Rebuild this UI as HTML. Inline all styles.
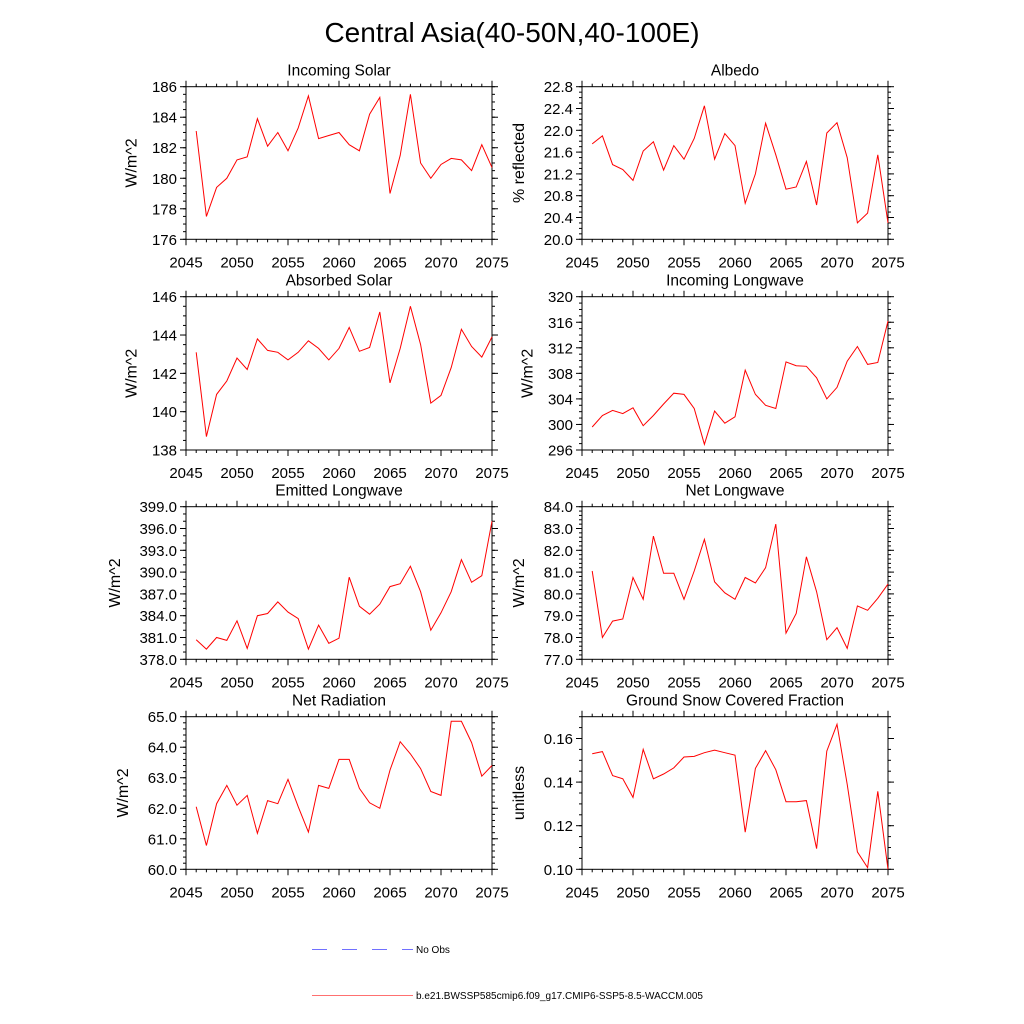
<!DOCTYPE html>
<html><head><meta charset="utf-8"><style>
html,body{margin:0;padding:0;background:#fff;}
svg{display:block;font-family:"Liberation Sans",Arial,sans-serif;}
</style></head><body>
<svg id="chart" width="1024" height="1024" viewBox="0 0 1024 1024" xmlns="http://www.w3.org/2000/svg">
<text x="512" y="42" font-size="28" text-anchor="middle">Central Asia(40-50N,40-100E)</text>
<g>
<line x1="312" y1="949.5" x2="413" y2="949.5" stroke="#7070ff" stroke-width="1" stroke-dasharray="15,15"/>
<text x="416" y="953" font-size="10">No Obs</text>
<line x1="312" y1="995.5" x2="413" y2="995.5" stroke="#ff7070" stroke-width="1"/>
<text x="416" y="999" font-size="10">b.e21.BWSSP585cmip6.f09_g17.CMIP6-SSP5-8.5-WACCM.005</text>
</g>
</svg>
<script>
const years = [2046,2047,2048,2049,2050,2051,2052,2053,2054,2055,2056,2057,2058,2059,2060,2061,2062,2063,2064,2065,2066,2067,2068,2069,2070,2071,2072,2073,2074,2075];
const xTicks = [2045,2050,2055,2060,2065,2070,2075];
const incomingSolar = [183.1,177.5,179.4,180.0,181.2,181.4,183.9,182.1,183.0,181.8,183.3,185.4,182.6,182.8,183.0,182.2,181.8,184.2,185.3,179.0,181.5,185.5,181.0,180.0,180.9,181.3,181.2,180.5,182.2,180.7];
const albedo = [21.75,21.9,21.37,21.28,21.08,21.62,21.79,21.27,21.72,21.47,21.85,22.45,21.47,21.94,21.72,20.66,21.2,22.13,21.55,20.92,20.96,21.43,20.63,21.95,22.14,21.5,20.3,20.48,21.55,20.3];
const absorbedSolar = [143.1,138.7,140.9,141.6,142.8,142.2,143.8,143.2,143.1,142.7,143.1,143.7,143.3,142.7,143.3,144.4,143.15,143.35,145.2,141.5,143.3,145.5,143.5,140.45,140.85,142.3,144.3,143.4,142.85,143.9];
const incomingLongwave = [299.6,301.4,302.2,301.7,302.6,299.8,301.4,303.2,304.9,304.7,302.5,296.9,302.1,300.2,301.2,308.5,304.7,303.0,302.5,309.8,309.2,309.1,307.3,304.0,305.8,309.9,312.2,309.4,309.7,316.2];
const emittedLongwave = [380.7,379.4,381.0,380.6,383.3,379.5,384.0,384.3,385.9,384.5,383.6,379.4,382.7,380.2,380.9,389.3,385.3,384.2,385.6,388.0,388.4,390.8,387.3,382.0,384.4,387.3,391.7,388.6,389.5,397.0];
const netLongwave = [81.05,78.0,78.75,78.85,80.75,79.75,82.65,80.95,80.95,79.75,81.05,82.5,80.55,80.05,79.75,80.75,80.5,81.2,83.2,78.2,79.1,81.7,80.1,77.9,78.45,77.5,79.45,79.25,79.8,80.45];
const netRadiation = [62.05,60.78,62.15,62.75,62.1,62.42,61.18,62.25,62.15,62.95,62.05,61.22,62.75,62.65,63.6,63.6,62.65,62.18,62.0,63.25,64.18,63.78,63.3,62.55,62.42,64.85,64.85,64.15,63.05,63.4];
const snowFraction = [0.153,0.154,0.143,0.1415,0.133,0.155,0.1415,0.1437,0.1465,0.1515,0.1518,0.1535,0.1547,0.1535,0.1524,0.117,0.1463,0.1544,0.1457,0.131,0.131,0.1315,0.1095,0.1542,0.1665,0.139,0.108,0.1008,0.1358,0.100];
const ticksIncomingSolar = [176,178,180,182,184,186];
const ticksAlbedo = [20.0,20.4,20.8,21.2,21.6,22.0,22.4,22.8];
const ticksAbsorbedSolar = [138,140,142,144,146];
const ticksIncomingLongwave = [296,300,304,308,312,316,320];
const ticksEmittedLongwave = [378,381,384,387,390,393,396,399];
const ticksNetLongwave = [77,78,79,80,81,82,83,84];
const ticksNetRadiation = [60,61,62,63,64,65];
const ticksSnow = [0.10,0.12,0.14,0.16];

const NS="http://www.w3.org/2000/svg";
const svg=document.getElementById('chart');
function mk(tag,attrs,parent){const e=document.createElementNS(NS,tag);for(const k in attrs)e.setAttribute(k,attrs[k]);(parent||svg).appendChild(e);return e;}

const panels=[
 {name:'incoming-solar',title:'Incoming Solar',ylab:'W/m^2',data:incomingSolar,ticks:ticksIncomingSolar,ymin:176,ymax:186,dec:0,minor:4,col:0,row:0},
 {name:'albedo',title:'Albedo',ylab:'% reflected',data:albedo,ticks:ticksAlbedo,ymin:20,ymax:22.8,dec:1,minor:4,col:1,row:0},
 {name:'absorbed-solar',title:'Absorbed Solar',ylab:'W/m^2',data:absorbedSolar,ticks:ticksAbsorbedSolar,ymin:138,ymax:146,dec:0,minor:4,col:0,row:1},
 {name:'incoming-longwave',title:'Incoming Longwave',ylab:'W/m^2',data:incomingLongwave,ticks:ticksIncomingLongwave,ymin:296,ymax:320,dec:0,minor:4,col:1,row:1},
 {name:'emitted-longwave',title:'Emitted Longwave',ylab:'W/m^2',data:emittedLongwave,ticks:ticksEmittedLongwave,ymin:378,ymax:399,dec:1,minor:3,col:0,row:2},
 {name:'net-longwave',title:'Net Longwave',ylab:'W/m^2',data:netLongwave,ticks:ticksNetLongwave,ymin:77,ymax:84,dec:1,minor:5,col:1,row:2},
 {name:'net-radiation',title:'Net Radiation',ylab:'W/m^2',data:netRadiation,ticks:ticksNetRadiation,ymin:60,ymax:65,dec:1,minor:5,col:0,row:3},
 {name:'ground-snow-fraction',title:'Ground Snow Covered Fraction',ylab:'unitless',data:snowFraction,ticks:ticksSnow,ymin:0.10,ymax:0.17,dec:2,minor:4,col:1,row:3}
];
const colX=[[186,492],[582,888]];
const rowY=[[86.7,239.3],[296.7,450],[506.7,659.3],[716.7,869.3]];

panels.forEach(p=>{
 const [x0,x1]=colX[p.col];const [y0,y1]=rowY[p.row];
 const g=mk('g',{});
 
 
 const xs=v=>x0+(v-2045)/30*(x1-x0);
 const ys=v=>y1-(v-p.ymin)/(p.ymax-p.ymin)*(y1-y0);
 const t=mk('text',{x:(x0+x1)/2,y:y0-11,'font-size':15.5,'text-anchor':'middle'},g);
 t.textContent=p.title;
 
 
 const r=mk('rect',{x:x0,y:y0,width:x1-x0,height:y1-y0,fill:'none',stroke:'#000','stroke-width':1},g);
 
 
 xTicks.forEach(v=>{
  const x=xs(v);
  mk('line',{x1:x,x2:x,y1:y1,y2:y1+6,stroke:'#000'},g);
  mk('line',{x1:x,x2:x,y1:y0,y2:y0-6,stroke:'#000'},g);
  const l=mk('text',{x:x,y:y1+28,'font-size':15,'text-anchor':'middle'},g);
  l.textContent=v;
  
  
 });
 for(let yr=2046;yr<2075;yr++){if(yr%5===0)continue;const x=xs(yr);
  mk('line',{x1:x,x2:x,y1:y1,y2:y1+3,stroke:'#000'},g);
  mk('line',{x1:x,x2:x,y1:y0,y2:y0-3,stroke:'#000'},g);}
 const step=p.ticks[1]-p.ticks[0];
 p.ticks.forEach(v=>{
  const y=ys(v);
  mk('line',{x1:x0-6,x2:x0,y1:y,y2:y,stroke:'#000'},g);
  mk('line',{x1:x1,x2:x1+6,y1:y,y2:y,stroke:'#000'},g);
  const l=mk('text',{x:x0-9,y:y+5.5,'font-size':15,'text-anchor':'end'},g);
  l.textContent=v.toFixed(p.dec);
  
  
 });
 const ms=step/p.minor;
 for(let v=p.ticks[0];v<=p.ymax+1e-9;v+=ms){const y=ys(v);if(y<y0-0.5)break;
  mk('line',{x1:x0-3,x2:x0,y1:y,y2:y,stroke:'#000'},g);
  mk('line',{x1:x1,x2:x1+3,y1:y,y2:y,stroke:'#000'},g);}
 const maxLen=Math.max(...p.ticks.map(v=>v.toFixed(p.dec).length));
 const lx=x0-16-maxLen*8.2-9;
 const yl=mk('text',{x:lx,y:(y0+y1)/2,'font-size':16,'text-anchor':'middle',transform:`rotate(-90 ${lx} ${(y0+y1)/2})`},g);
 yl.textContent=p.ylab;
 
 
 const pts=years.map((yr,i)=>xs(yr).toFixed(1)+','+ys(p.data[i]).toFixed(1)).join(' ');
 const pl=mk('polyline',{points:pts,fill:'none',stroke:'#ff0000','stroke-width':1},g);
 
 
});
</script>
</body></html>
